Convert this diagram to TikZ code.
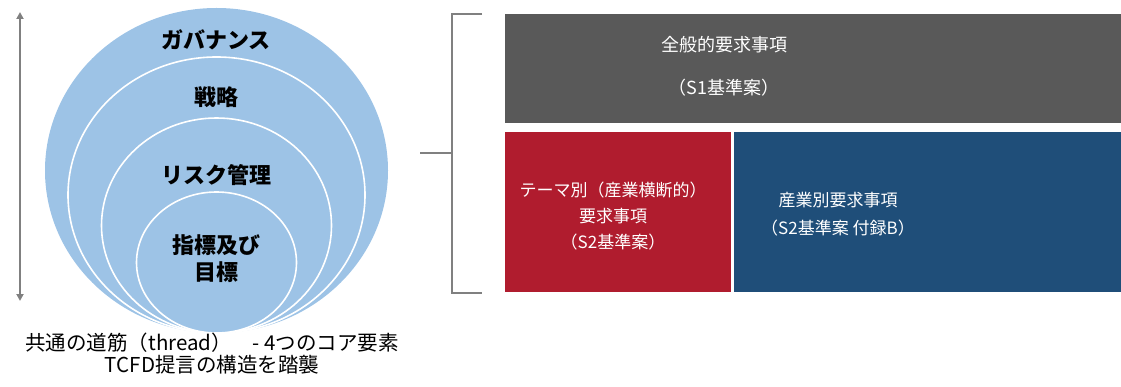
\documentclass[tikz,border=0pt]{standalone}
\usepackage{fontspec}
\newfontfamily\jp{Noto Sans CJK JP}
\usetikzlibrary{arrows.meta}
\definecolor{ringblue}{HTML}{9DC3E6}
\definecolor{boxgray}{HTML}{595959}
\definecolor{boxred}{HTML}{B01C2E}
\definecolor{boxblue}{HTML}{1F4E79}
\definecolor{linegray}{HTML}{808080}
\tikzset{
  ring/.style={fill=ringblue, draw=white, line width=1.6pt},
  ringtext/.style={font={\jp\bfseries\fontsize{22}{27}\selectfont}, text=black, align=center, inner sep=0pt},
  boxtext/.style={font={\jp\fontsize{17}{26}\selectfont}, text=white, align=center, inner sep=0pt},
  captext/.style={font={\jp\fontsize{20.5}{22}\selectfont}, text=black, align=center, inner sep=0pt},
  bracket/.style={draw=linegray, line width=2.2pt},
  scalearrow/.style={draw=linegray, line width=1.8pt, {Triangle[length=7pt,width=7pt]}-{Triangle[length=7pt,width=7pt]}}
}
\begin{document}
\begin{tikzpicture}[x=1pt,y=-1pt]
\path[use as bounding box] (0,0) rectangle (1121,387);
% rings
\fill[ringblue] (216.5,170.5) ellipse [x radius=171.5, y radius=162.5];
\draw[ring] (216.5,195) ellipse [x radius=148.5, y radius=138];
\draw[ring] (216.5,225.5) ellipse [x radius=115, y radius=107.5];
\draw[ring] (216.5,262.5) ellipse [x radius=80, y radius=70.5];
\node[ringtext] (gov) at (216,40) {ガバナンス};
\node[ringtext] (strat) at (216,97) {戦略};
\node[ringtext] (risk) at (216,175) {リスク管理};
\node[ringtext] (metric) at (216,258.5) {指標及び\\目標};
% arrow
\coordinate (atop) at (20,12);
\coordinate (abot) at (20,301);
\draw[scalearrow] (atop) -- (abot);
% caption
\node[captext] (cap) at (212,354) {共通の道筋（thread）\quad- 4つのコア要素\\TCFD提言の構造を踏襲};
% bracket
\coordinate (bt) at (482,14);
\coordinate (bb) at (482,293);
\coordinate (bstub) at (420,153);
\draw[bracket] (bt) -- (452,14) -- (452,293) -- (bb);
\draw[bracket] (bstub) -- (452,153);
% boxes
\fill[boxgray] (505,14) rectangle (1121,123);
\fill[boxred] (505,132) rectangle (731,292);
\fill[boxblue] (734,132) rectangle (1121,292);
\node[boxtext, font={\jp\fontsize{18}{43}\selectfont}] (general) at (724,66.5) {全般的要求事項\\（S1基準案）};
\node[boxtext] (theme) at (613,216) {テーマ別（産業横断的）\\要求事項\\（S2基準案）};
\node[boxtext, font={\jp\fontsize{17}{28}\selectfont}] (industry) at (838,214) {産業別要求事項\\（S2基準案 付録B）};
\end{tikzpicture}
\end{document}
